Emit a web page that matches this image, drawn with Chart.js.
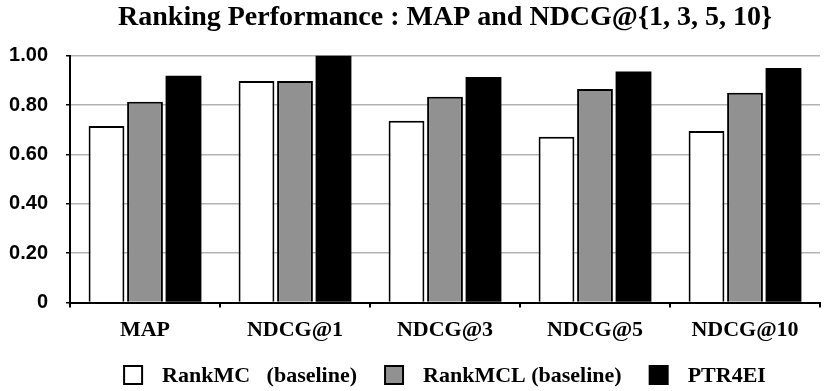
<!DOCTYPE html>
<html lang="en">
<head>
    <meta charset="UTF-8">
    <title>Ranking Performance</title>
    <script src="https://cdn.jsdelivr.net/npm/chart.js"></script>
    <style>
        html, body { margin: 0; padding: 0; background: #fff; }
        .wrap { width: 831px; height: 391px; }
    </style>
</head>
<body>
    <div class="wrap">
        <canvas id="rankChart" width="831" height="391"></canvas>
    </div>

    <script>
        const categories = ['MAP', 'NDCG@1', 'NDCG@3', 'NDCG@5', 'NDCG@10'];
        const rankMC = [0.715, 0.897, 0.736, 0.671, 0.695];
        const rankMCL = [0.813, 0.897, 0.833, 0.865, 0.850];
        const ptr4ei = [0.918, 1.000, 0.913, 0.936, 0.950];
        const seriesNames = ['RankMC   (baseline)', 'RankMCL (baseline)', 'PTR4EI'];

        const serif = "'Liberation Serif', 'Times New Roman', serif";
        const sans = "'Liberation Sans', Arial, sans-serif";

        // legend drawn by hand so the box/text spacing matches the original
        const boxLegend = {
            id: 'boxLegend',
            afterDraw(chart) {
                const c = chart.ctx;
                const area = chart.chartArea;
                const box = 18, textGap = 20, itemGap = 28;
                c.save();
                c.font = 'bold 22px ' + serif;
                c.textBaseline = 'middle';
                let items = chart.data.datasets.map(ds => ({
                    text: ds.label,
                    fill: ds.backgroundColor,
                    w: c.measureText(ds.label).width
                }));
                let total = items.reduce((s, it) => s + box + textGap + it.w, 0) + itemGap * (items.length - 1);
                let x = (area.left + area.right) / 2 - total / 2;
                let y = chart.height - 16;
                items.forEach(it => {
                    c.fillStyle = it.fill;
                    c.fillRect(x, y - box / 2, box, box);
                    c.strokeStyle = '#000';
                    c.lineWidth = 2;
                    c.strokeRect(x, y - box / 2, box, box);
                    c.fillStyle = '#000';
                    c.fillText(it.text, x + box + textGap, y + 1);
                    x += box + textGap + it.w + itemGap;
                });
                c.restore();
            }
        };

        let ctx = document.getElementById('rankChart').getContext('2d');
        new Chart(ctx, {
            type: 'bar',
            data: {
                labels: categories,
                datasets: [
                    {
                        label: seriesNames[0],
                        data: rankMC,
                        backgroundColor: '#ffffff',
                        borderColor: '#000000',
                        borderWidth: 2
                    },
                    {
                        label: seriesNames[1],
                        data: rankMCL,
                        backgroundColor: '#919191',
                        borderColor: '#000000',
                        borderWidth: 2
                    },
                    {
                        label: seriesNames[2],
                        data: ptr4ei,
                        backgroundColor: '#000000',
                        borderColor: '#000000',
                        borderWidth: 0
                    }
                ]
            },
            plugins: [boxLegend],
            options: {
                responsive: false,
                animation: false,
                categoryPercentage: 0.77,
                barPercentage: 0.93,
                layout: {
                    padding: { left: 4, right: 11, top: 0, bottom: 37 }
                },
                scales: {
                    x: {
                        grid: {
                            display: true,
                            drawOnChartArea: false,
                            color: '#000',
                            lineWidth: 2,
                            tickLength: 5
                        },
                        border: { color: '#000', width: 2 },
                        ticks: {
                            color: '#000',
                            font: { family: serif, size: 22, weight: 'bold' },
                            padding: 10
                        }
                    },
                    y: {
                        min: 0,
                        max: 1,
                        afterFit: function(scale) {
                            scale.width = 66;
                        },
                        grid: {
                            color: '#b3b3b3',
                            lineWidth: 1.5,
                            tickColor: '#000',
                            tickLength: 4
                        },
                        border: { color: '#000', width: 2 },
                        ticks: {
                            stepSize: 0.2,
                            color: '#000',
                            padding: 18,
                            font: { family: sans, size: 20, weight: 'bold' },
                            callback: function(value) {
                                return value === 0 ? '0' : value.toFixed(2);
                            }
                        }
                    }
                },
                plugins: {
                    title: {
                        display: true,
                        fullSize: false,
                        text: 'Ranking Performance : MAP and NDCG@{1, 3, 5, 10}',
                        color: '#000',
                        font: { family: serif, size: 28, weight: 'bold' },
                        padding: { top: 1, bottom: 21 }
                    },
                    legend: { display: false },
                    tooltip: { enabled: false }
                }
            }
        });
    </script>
</body>
</html>
